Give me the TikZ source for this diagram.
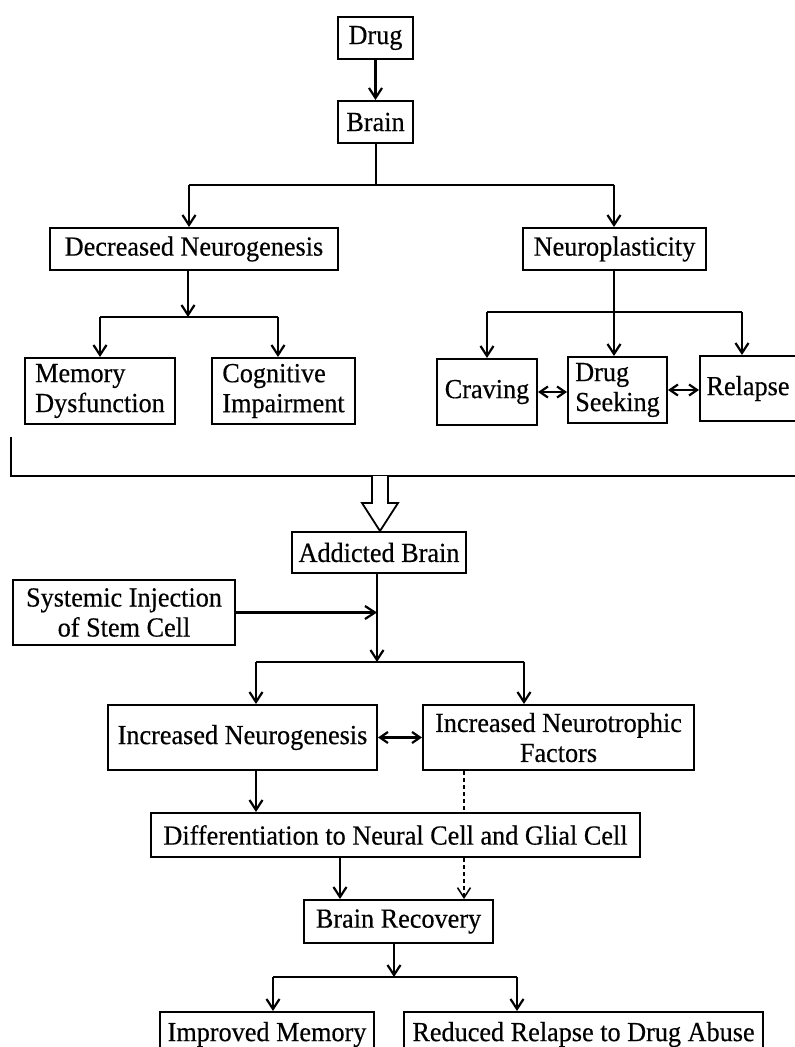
\documentclass[tikz,border=0pt]{standalone}
\usepackage{fontspec}
\setmainfont{Liberation Serif}[FakeStretch=0.95,FakeBold=0.4]
\usetikzlibrary{arrows.meta,calc}
\newcommand\myfs{\fontsize{27.6}{30}\selectfont}
\tikzset{
  box/.style={draw, line width=2pt, inner sep=0pt, font=\myfs},
  ln/.style={line width=2.2pt},
  arr/.style={ln, -{Straight Barb[length=10pt,width=13pt]}},
  arrtwo/.style={ln, {Straight Barb[length=8pt,width=11pt]}-{Straight Barb[length=8pt,width=11pt]}},
  dsh/.style={line width=1.5pt, dash pattern=on 4pt off 3pt},
  dsharr/.style={dsh, -{Straight Barb[length=10pt,width=13pt]}}
}
\begin{document}
\begin{tikzpicture}[x=1pt,y=-1pt]
\useasboundingbox (0,0) rectangle (795,1047);
% nodes
\node[box, minimum width=75, minimum height=42] (drug) at (375.5,38) {Drug};
\node[box, minimum width=75, minimum height=42] (brain) at (375.5,122) {Brain};
\node[box, minimum width=288, minimum height=42] (dn) at (194,249) {Decreased Neurogenesis};
\node[box, minimum width=183, minimum height=42] (np) at (614.5,249) {Neuroplasticity};
\node[box, minimum width=150, minimum height=66, align=left] (mem) at (100,391) {Memory\\Dysfunction};
\node[box, minimum width=143, minimum height=66, align=left] (cog) at (283.5,391) {Cognitive\\Impairment};
\node[box, minimum width=100, minimum height=66] (crav) at (487,392) {Craving};
\node[box, minimum width=99, minimum height=66, align=left] (ds) at (617.5,390) {Drug\\Seeking};
\node[box, minimum width=96, minimum height=65] (rel) at (748,388.5) {Relapse};
\node[box, minimum width=174, minimum height=41] (ab) at (379,552.5) {Addicted Brain};
\node[box, minimum width=222, minimum height=65, align=center] (sys) at (124,612.5) {Systemic Injection\\of Stem Cell};
\node[box, minimum width=269, minimum height=65] (inn) at (242.5,737.5) {Increased Neurogenesis};
\node[box, minimum width=271, minimum height=65, align=center] (inf) at (558.5,737.5) {Increased Neurotrophic\\Factors};
\node[box, minimum width=489, minimum height=44] (diff) at (395.5,835) {Differentiation to Neural Cell and Glial Cell};
\node[box, minimum width=189, minimum height=43] (br) at (398.5,921.5) {Brain Recovery};
\node[box, minimum width=214, minimum height=45] (im) at (267,1034.5) {Improved Memory};
\node[box, minimum width=359, minimum height=45] (rr) at (583.5,1034.5) {Reduced Relapse to Drug Abuse};
% coordinates
\coordinate (f1l) at (189,185);
\coordinate (f1r) at (614,185);
\coordinate (f1) at (376,185);
\coordinate (f2) at (188,317);
\coordinate (f2l) at (100,317);
\coordinate (f2r) at (278,317);
\coordinate (f3) at (614,312);
\coordinate (f3l) at (487,312);
\coordinate (f3r) at (742,312);
\coordinate (bk1) at (11,437);
\coordinate (bk2) at (11,476);
\coordinate (bk3) at (800,476);
\coordinate (ha) at (380,476);
\coordinate (f4) at (377,662);
\coordinate (f4l) at (256,662);
\coordinate (f4r) at (524,662);
\coordinate (dx) at (464,0);
\coordinate (sx) at (340,0);
\coordinate (f5) at (394,977);
\coordinate (f5l) at (273,977);
\coordinate (f5r) at (517,977);
% connectors
\draw[arr] (drug) -- (brain);
\draw[ln] (f1 |- brain.south) -- (f1);
\draw[ln] (f1l) -- (f1r);
\draw[arr] (f1l) -- (f1l |- dn.north);
\draw[arr] (f1r) -- (f1r |- np.north);
\draw[arr] (f2 |- dn.south) -- (f2);
\draw[ln] (f2l) -- (f2r);
\draw[arr] (f2l) -- (f2l |- mem.north);
\draw[arr] (f2r) -- (f2r |- cog.north);
\draw[arr] (f3 |- np.south) -- (f3 |- ds.north);
\draw[ln] (f3l) -- (f3r);
\draw[arr] (f3l) -- (f3l |- crav.north);
\draw[arr] (f3r) -- (f3r |- rel.north);
\draw[arrtwo] (crav.east) -- (crav.east -| ds.west);
\draw[arrtwo] (ds.east) -- (ds.east -| rel.west);
% bracket and hollow arrow
\draw[ln] (bk1) -- (bk2) -- (bk3);
\draw[line width=1.8pt, fill=white] ($(ha)+(-8,0)$) -- ($(ha)+(-8,27)$) -- ($(ha)+(-18,27)$) -- (ab.north -| ha) -- ($(ha)+(18,27)$) -- ($(ha)+(8,27)$) -- ($(ha)+(8,0)$);
% lower part
\draw[arr] (f4 |- ab.south) -- (f4);
\draw[arr] (sys.east) -- (sys.east -| f4);
\draw[ln] (f4l) -- (f4r);
\draw[arr] (f4l) -- (f4l |- inn.north);
\draw[arr] (f4r) -- (f4r |- inf.north);
\draw[arrtwo] (inn.east) -- (inf.west);
\draw[arr] (f4l |- inn.south) -- (f4l |- diff.north);
\draw[dsh] (dx |- inf.south) -- (dx |- diff.north);
\draw[arr] (sx |- diff.south) -- (sx |- br.north);
\draw[dsharr] (dx |- diff.south) -- (dx |- br.north);
\draw[arr] (f5 |- br.south) -- (f5);
\draw[ln] (f5l) -- (f5r);
\draw[arr] (f5l) -- (f5l |- im.north);
\draw[arr] (f5r) -- (f5r |- rr.north);
\end{tikzpicture}
\end{document}
